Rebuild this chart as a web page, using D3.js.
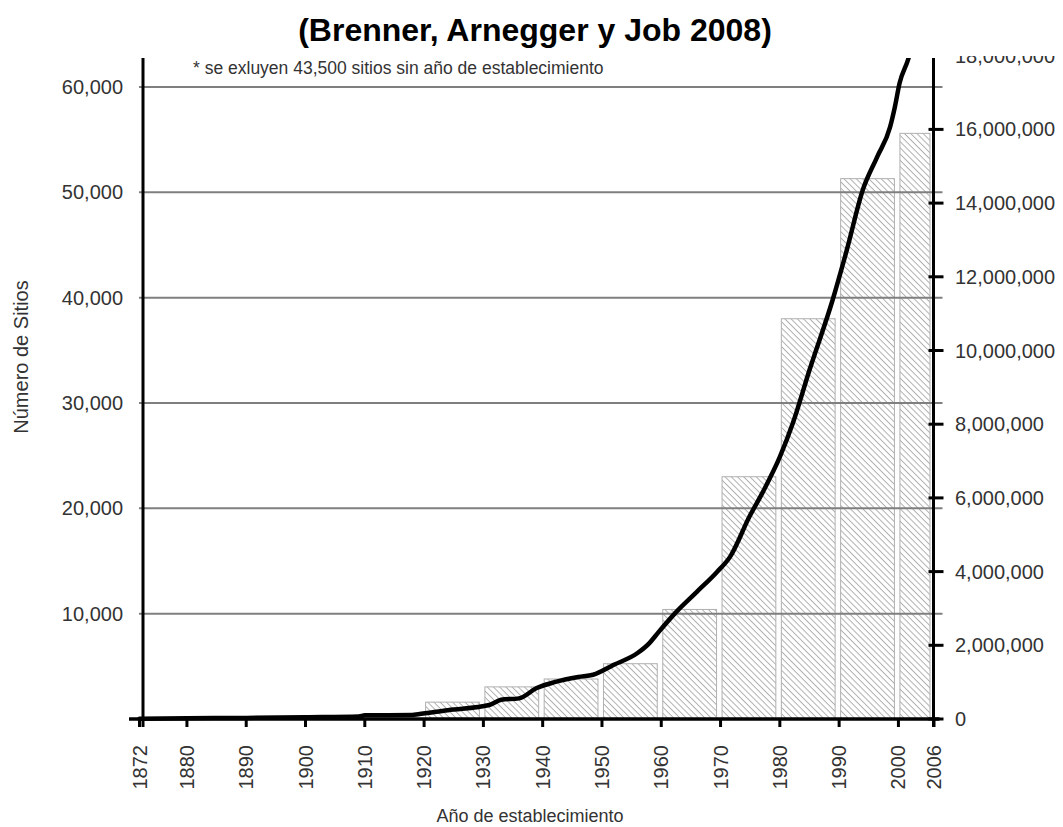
<!DOCTYPE html>
<html>
<head>
<meta charset="utf-8">
<script src="https://cdn.jsdelivr.net/npm/d3@7"></script>
<style>
  html, body { margin: 0; padding: 0; background: #fff; }
  text { font-family: "Liberation Sans", Arial, sans-serif; }
</style>
</head>
<body>
<svg id="chart" width="1063" height="827"></svg>
<script>
// ---------- DATA ----------
const title = "(Brenner, Arnegger y Job 2008)";
const note = "* se exluyen 43,500 sitios sin año de establecimiento";
const xLabel = "Año de establecimiento";
const yLabel = "Número de Sitios";

const xTickYears = [1872, 1880, 1890, 1900, 1910, 1920, 1930, 1940, 1950, 1960, 1970, 1980, 1990, 2000, 2006];
const leftTicks = [10000, 20000, 30000, 40000, 50000, 60000];
const rightTicks = [0, 2000000, 4000000, 6000000, 8000000, 10000000, 12000000, 14000000, 16000000, 18000000];

// decade bars (number of sites established, left axis)
const barStarts = [1920, 1930, 1940, 1950, 1960, 1970, 1980, 1990, 2000];
const barEnds   = [1930, 1940, 1950, 1960, 1970, 1980, 1990, 2000, 2006];
const barValues = [1600, 3050, 3800, 5250, 10400, 23000, 38000, 51300, 55600];

// cumulative line (right axis)
const lineYears  = [1872, 1880, 1890, 1900, 1909, 1910, 1918, 1919, 1924, 1931, 1933, 1936, 1939, 1942, 1946, 1948.5, 1952, 1956, 1958, 1959.5, 1962.5, 1966, 1969.4, 1971.6, 1974.9, 1977.1, 1980, 1982.2, 1985, 1988.9, 1991.3, 1994, 1996.4, 1998.6, 1999.4, 2000.2, 2001.6, 2003, 2006];
const lineValues = [10000, 20000, 30000, 50000, 70000, 100000, 110000, 130000, 240000, 380000, 520000, 560000, 840000, 1000000, 1140000, 1200000, 1470000, 1790000, 2060000, 2350000, 2900000, 3450000, 3990000, 4400000, 5500000, 6150000, 7110000, 8030000, 9470000, 11370000, 12730000, 14360000, 15250000, 16070000, 16610000, 17260000, 17880000, 18700000, 20000000];

// ---------- CHART ----------
const svg = d3.select("#chart");
const plotTop = 58, plotBottom = 719;

const x = d3.scaleLinear().domain([1872, 2006]).range([139.5, 934]);
const yL = d3.scaleLinear().domain([0, 60000]).range([plotBottom, 87]);
const yR = d3.scaleLinear().domain([0, 16000000]).range([plotBottom, 129.4]);

const leftX = 143, rightX = 933.5;

const defs = svg.append("defs");
const pat = defs.append("pattern")
  .attr("id", "hatch").attr("patternUnits", "userSpaceOnUse")
  .attr("width", 10).attr("height", 4.4)
  .attr("patternTransform", "rotate(45)");
pat.append("rect").attr("width", 10).attr("height", 4.4).attr("fill", "#fff");
pat.append("line").attr("x1", 0).attr("x2", 10).attr("y1", 0.5).attr("y2", 0.5)
  .attr("stroke", "#a8a8a8").attr("stroke-width", 0.9);

defs.append("clipPath").attr("id", "plotClip")
  .append("rect").attr("x", 0).attr("y", plotTop).attr("width", 1063).attr("height", 827 - plotTop);
defs.append("clipPath").attr("id", "topLabelClip")
  .append("rect").attr("x", 0).attr("y", 56).attr("width", 1063).attr("height", 827);

// title
svg.append("text").attr("x", 535).attr("y", 41).attr("text-anchor", "middle")
  .attr("font-size", 32).attr("font-weight", "bold").attr("fill", "#000").text(title);

// bars
svg.append("g").selectAll("rect").data(barValues).join("rect")
  .attr("x", (d, i) => x(barStarts[i]) + 1.5)
  .attr("width", (d, i) => x(barEnds[i]) - x(barStarts[i]) - 5.5)
  .attr("y", d => yL(d))
  .attr("height", d => plotBottom - yL(d))
  .attr("fill", "url(#hatch)")
  .attr("stroke", "#b0b0b0").attr("stroke-width", 1);

// gridlines
svg.append("g").selectAll("line").data(leftTicks).join("line")
  .attr("x1", leftX - 4).attr("x2", rightX + 9)
  .attr("y1", d => yL(d)).attr("y2", d => yL(d))
  .attr("stroke", "#7f7f7f").attr("stroke-width", 2);

// left tick labels
svg.append("g").selectAll("text").data(leftTicks).join("text")
  .attr("x", 123).attr("y", d => yL(d)).attr("dy", "0.35em")
  .attr("text-anchor", "end").attr("font-size", 20).attr("fill", "#333")
  .text(d => d3.format(",")(d));

// right axis ticks & labels
svg.append("g").selectAll("line").data(rightTicks.filter(d => d <= 16000000)).join("line")
  .attr("x1", rightX - 5).attr("x2", rightX + 10)
  .attr("y1", d => yR(d)).attr("y2", d => yR(d))
  .attr("stroke", "#000").attr("stroke-width", 3);
svg.append("g").attr("clip-path", "url(#topLabelClip)").selectAll("text").data(rightTicks).join("text")
  .attr("x", 955).attr("y", d => yR(d)).attr("dy", "0.35em")
  .attr("text-anchor", "start").attr("font-size", 20).attr("fill", "#333")
  .text(d => d3.format(",")(d));

// cumulative line
const line = d3.line().x((d, i) => x(lineYears[i])).y(d => yR(d)).curve(d3.curveMonotoneX);
svg.append("path").datum(lineValues)
  .attr("clip-path", "url(#plotClip)")
  .attr("d", line).attr("fill", "none").attr("stroke", "#000")
  .attr("stroke-width", 4.5).attr("stroke-linejoin", "round").attr("stroke-linecap", "round");

// axes lines
svg.append("line").attr("x1", leftX).attr("x2", leftX).attr("y1", plotTop).attr("y2", plotBottom + 8)
  .attr("stroke", "#000").attr("stroke-width", 3);
svg.append("line").attr("x1", rightX).attr("x2", rightX).attr("y1", plotTop).attr("y2", plotBottom + 8)
  .attr("stroke", "#000").attr("stroke-width", 3);
svg.append("line").attr("x1", 129).attr("x2", rightX + 6).attr("y1", plotBottom).attr("y2", plotBottom)
  .attr("stroke", "#000").attr("stroke-width", 3.5);

// x ticks & labels
svg.append("g").selectAll("line").data(xTickYears).join("line")
  .attr("x1", d => x(d)).attr("x2", d => x(d))
  .attr("y1", plotBottom).attr("y2", plotBottom + 8)
  .attr("stroke", "#000").attr("stroke-width", 3);
svg.append("g").selectAll("text").data(xTickYears).join("text")
  .attr("transform", d => `translate(${x(d)},745) rotate(-90)`)
  .attr("dy", "0.35em").attr("text-anchor", "end")
  .attr("font-size", 20).attr("fill", "#333").text(d => d);

// note
svg.append("text").attr("x", 193).attr("y", 74).attr("font-size", 17.5).attr("fill", "#333").text(note);

// axis titles
svg.append("text").attr("transform", "translate(28,357) rotate(-90)")
  .attr("text-anchor", "middle").attr("font-size", 20).attr("fill", "#333").text(yLabel);
svg.append("text").attr("x", 530).attr("y", 822).attr("text-anchor", "middle")
  .attr("font-size", 18).attr("fill", "#333").text(xLabel);
</script>
</body>
</html>
